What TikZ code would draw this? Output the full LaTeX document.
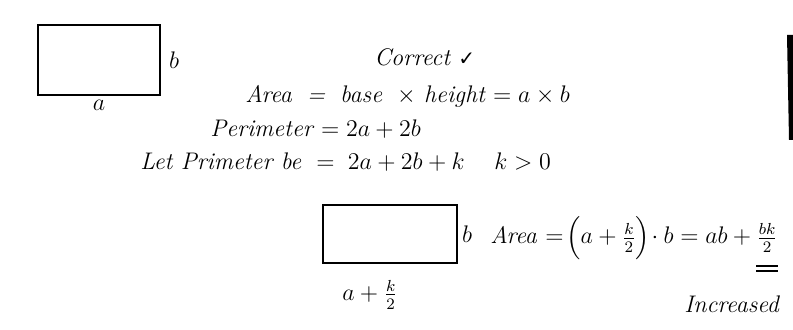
\documentclass[tikz,border=0pt]{standalone}
\usepackage{amsmath}
\usepackage{fontspec}
\usetikzlibrary{positioning}
\newfontfamily\symfont{DejaVu Sans}
\tikzset{
    box/.style  ={draw, line width=0.8pt, fill=white},
    hand/.style ={font=\large\itshape, inner sep=1pt, anchor=base west},
    side/.style ={font=\large, inner sep=1pt},
    uline/.style={line width=0.7pt}
}
\newcommand{\tick}{{\symfont\normalsize ✓}}

\begin{document}
\begin{tikzpicture}[x=0.5pt, y=-0.5pt]
  \useasboundingbox (0,0) rectangle (793,330);

  % ---- first rectangle
  \node[box, minimum width=61pt, minimum height=35pt] (rectA) at (99,60) {};
  \node[side, right=3pt of rectA] (sideA) {$b$};
  \node[side, below=1pt of rectA] (baseA) {$a$};

  % ---- working
  \node[hand] (correct) at (372,66) {Correct \tick};
  \node[hand] (area) at (243,103)
       {Area \;=\; base \;$\times$ height $=a\times b$};
  \node[hand] (perim) at (208,137) {Perimeter $=2a+2b$};
  \node[hand] (newper) at (138,170) {Let Primeter be \;$=\;2a+2b+k$};
  \node[hand] (kpos) at (492,170) {$k>0$};

  % ---- second rectangle
  \node[box, minimum width=67pt, minimum height=29pt] (rectB) at (390,234) {};
  \node[side, right=1pt of rectB] (sideB) {$b$};
  \node[side, below=7pt of rectB, xshift=-10pt] (baseB) {$a+\frac{k}{2}$};
  \node[hand, anchor=west] (areaB) at (488,238)
       {Area $=\!\Bigl(a+\frac{k}{2}\Bigr)\!\cdot b=ab+\frac{bk}{2}$};
  \draw[uline] ([xshift=-12pt,yshift=-2pt]areaB.south east) -- ++(11pt,0);
  \draw[uline] ([xshift=-12pt,yshift=-4.5pt]areaB.south east) -- ++(11pt,0);

  \node[hand] (incr) at (682,313) {Increased};

  % ---- scan edge
  \fill (787,35) -- (793,35) -- (793,140) -- (789,140) -- cycle;
\end{tikzpicture}
\end{document}
